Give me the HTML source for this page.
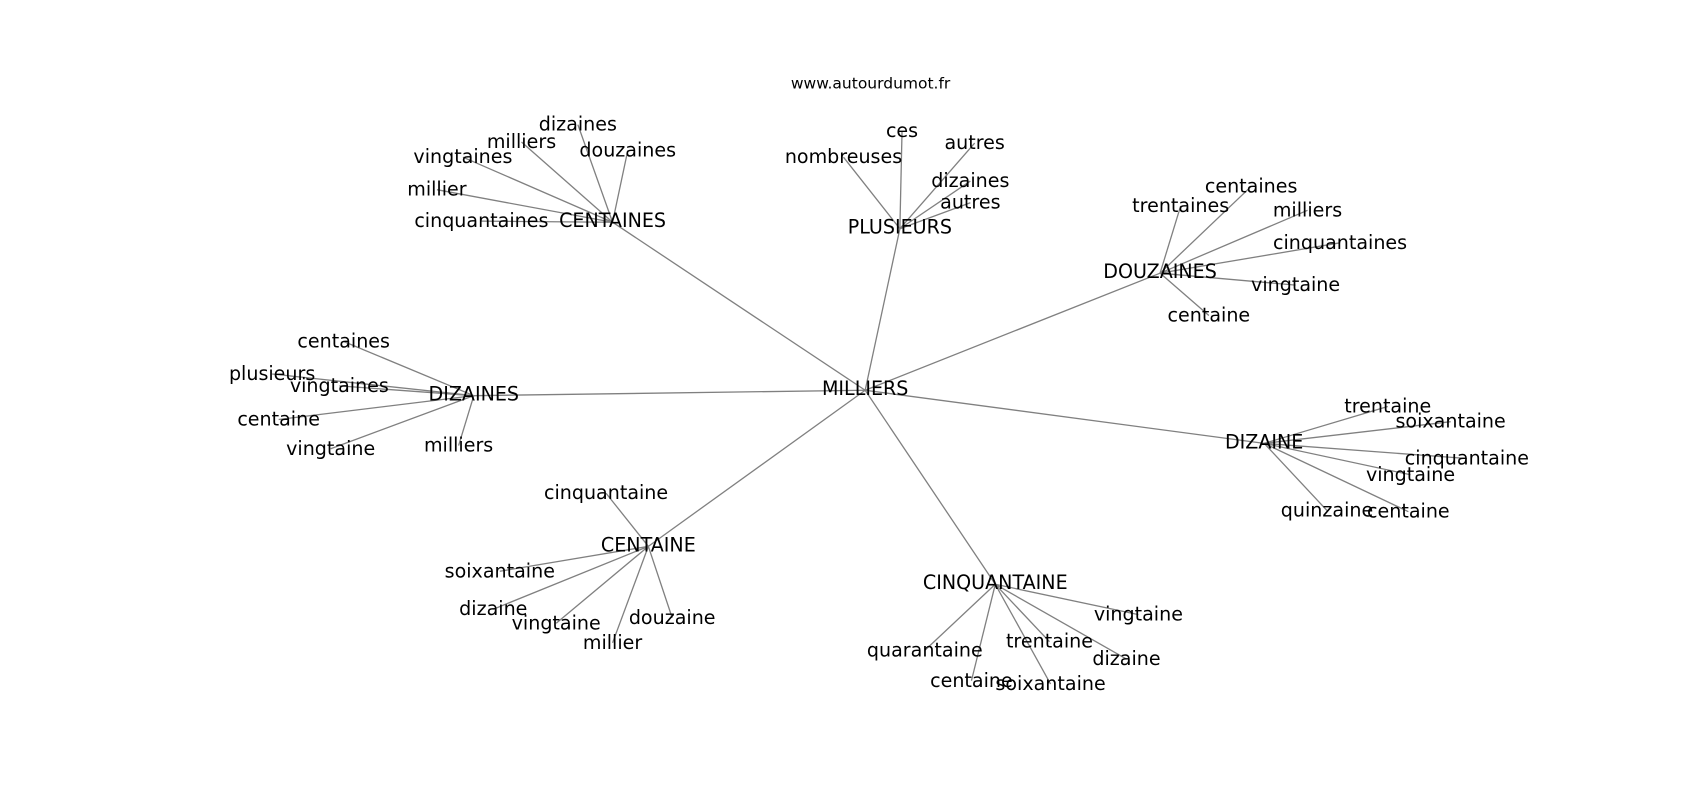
<!DOCTYPE html>
<html><head><meta charset="utf-8"><style>
html,body{margin:0;padding:0;background:#fff;}
svg text{font-family:"DejaVu Sans","Liberation Sans",sans-serif;font-size:17.6px;fill:#000;text-anchor:middle;dominant-baseline:central;}
</style></head><body>
<svg id="g" width="1700" height="800" viewBox="0 0 1568 738" preserveAspectRatio="none" xmlns="http://www.w3.org/2000/svg">
<g id="edges" stroke="#808080" stroke-width="1.2"></g>
<g id="labels"></g>
<text x="803" y="77" style="font-size:14.3px">www.autourdumot.fr</text>
</svg>
<script>
var N={
"MILLIERS":[798,360],
"CENTAINES":[565,205],"PLUSIEURS":[830,211],"DOUZAINES":[1070,252],"DIZAINES":[437,365],
"DIZAINE":[1166,409],"CENTAINE":[598,504],"CINQUANTAINE":[918,539]};
var L={
"CENTAINES":[["dizaines",533,115],["milliers",481,131],["vingtaines",427,145],["millier",403,175],["cinquantaines",444,204],["douzaines",579,139]],
"PLUSIEURS":[["ces",832,121],["nombreuses",778,145],["autres",899,132],["dizaines",895,167],["autres",895,187]],
"DOUZAINES":[["centaines",1154,172],["trentaines",1089,190],["milliers",1206,194],["cinquantaines",1236,224],["vingtaine",1195,263],["centaine",1115,291]],
"DIZAINES":[["centaines",317,315],["plusieurs",251,345],["vingtaines",313,356],["centaine",257,387],["vingtaine",305,414],["milliers",423,411]],
"DIZAINE":[["trentaine",1280,375],["soixantaine",1338,389],["cinquantaine",1353,423],["vingtaine",1301,438],["quinzaine",1224,471],["centaine",1299,472]],
"CENTAINE":[["cinquantaine",559,455],["soixantaine",461,527],["dizaine",455,562],["vingtaine",513,575],["millier",565,593],["douzaine",620,570]],
"CINQUANTAINE":[["vingtaine",1050,567],["trentaine",968,592],["dizaine",1039,608],["quarantaine",853,600],["centaine",896,628],["soixantaine",969,631]]};
var ns="http://www.w3.org/2000/svg",E=document.getElementById("edges"),T=document.getElementById("labels");
function line(a,b){var l=document.createElementNS(ns,"line");l.setAttribute("x1",a[0]);l.setAttribute("y1",a[1]);l.setAttribute("x2",b[0]);l.setAttribute("y2",b[1]);E.appendChild(l);}
function txt(s,x,y){var t=document.createElementNS(ns,"text");t.setAttribute("x",x);t.setAttribute("y",y);t.textContent=s;T.appendChild(t);}
for(var k in N){if(k!="MILLIERS")line(N.MILLIERS,N[k]);txt(k,N[k][0],N[k][1]-1);}
for(var k in L){L[k].forEach(function(o){line(N[k],[o[1],o[2]]);txt(o[0],o[1],o[2]);});}
</script>
</body></html>
